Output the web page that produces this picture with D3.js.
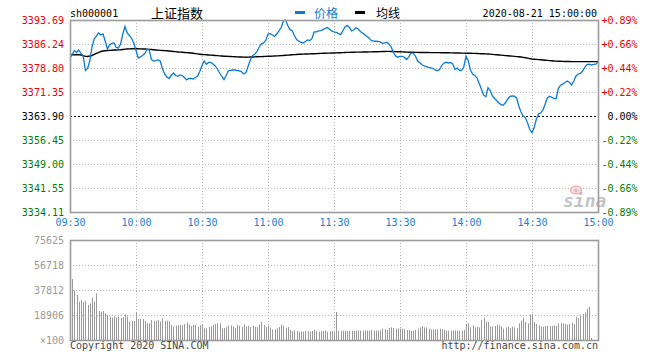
<!DOCTYPE html>
<html><head><meta charset="utf-8">
<script src="https://cdn.jsdelivr.net/npm/d3@7"></script>
<style>
html,body{margin:0;padding:0;background:#fff;}
svg{display:block;}
text{font-family:"DejaVu Sans Mono",monospace;}
.cjk{font-family:"Noto Sans CJK SC",sans-serif;}
</style></head>
<body>
<svg id="c" width="660" height="360"></svg>
<script>
const symbol = "sh000001";
const title = "上证指数";
const dateLabel = "2020-08-21 15:00:00";
const prevClose = 3363.90;
const priceTicks = [3393.69, 3386.24, 3378.80, 3371.35, 3363.90, 3356.45, 3349.00, 3341.55, 3334.11];
const pctTicks = ["+0.89%","+0.66%","+0.44%","+0.22%","0.00%","-0.22%","-0.44%","-0.66%","-0.89%"];
const timeTickIdx = [0, 30, 60, 90, 120, 150, 180, 210, 240];
const timeTickLabels = ["09:30","10:00","10:30","11:00","11:30","13:30","14:00","14:30","15:00"];
const volTicks = [75625, 56718, 37812, 18906, 0];
const volTickLabels = ["75625","56718","37812","18906","×100"];

const price = [
3381.90,3382.93,3384.23,3383.61,3384.39,3383.30,3382.53,3378.02,3378.65,3380.97,
3385.32,3387.80,3388.73,3389.67,3389.04,3389.35,3387.18,3384.70,3385.94,3386.41,
3386.56,3385.16,3385.01,3386.25,3389.35,3391.68,3389.67,3388.89,3387.96,3386.56,
3384.23,3381.90,3382.22,3382.68,3383.30,3384.54,3384.39,3381.44,3380.97,3381.07,
3381.28,3380.97,3378.65,3376.94,3376.01,3375.54,3376.47,3377.25,3376.47,3376.22,
3376.63,3376.47,3375.85,3375.08,3375.54,3375.54,3375.39,3375.85,3376.32,3377.71,
3379.58,3380.97,3379.95,3380.51,3380.51,3380.04,3379.42,3378.49,3377.25,3376.16,
3375.23,3376.47,3378.02,3378.09,3378.18,3378.24,3378.02,3377.87,3377.62,3376.94,
3377.40,3379.42,3381.28,3382.68,3383.05,3383.92,3385.32,3386.31,3386.56,3387.34,
3389.35,3389.45,3389.04,3388.58,3389.35,3390.29,3391.37,3393.39,3393.69,3391.99,
3390.69,3390.38,3388.89,3387.65,3387.12,3386.72,3386.56,3387.03,3387.49,3387.31,
3387.96,3389.98,3389.98,3390.29,3390.38,3390.69,3391.12,3391.34,3390.84,3390.29,
3389.98,3389.88,3389.45,3389.17,3390.29,3391.53,3392.06,3391.37,3390.29,3390.66,
3391.28,3390.91,3390.13,3389.67,3389.14,3388.58,3388.05,3387.27,3387.12,3387.09,
3387.03,3386.87,3386.47,3386.56,3386.72,3386.25,3385.32,3383.61,3382.53,3382.15,
3382.43,3382.43,3382.15,3381.44,3382.22,3383.46,3383.39,3382.53,3380.97,3380.41,
3379.79,3379.42,3379.24,3379.02,3378.86,3378.65,3378.18,3377.96,3378.33,3379.64,
3380.35,3380.57,3380.35,3380.51,3380.04,3378.33,3378.80,3378.09,3378.02,3379.11,
3382.43,3381.13,3378.18,3376.94,3376.50,3375.70,3373.99,3372.28,3370.36,3369.89,
3372.69,3371.82,3370.11,3369.33,3368.62,3367.94,3367.38,3367.31,3368.09,3369.18,
3370.02,3370.11,3370.05,3369.49,3367.00,3365.14,3363.90,3363.34,3361.73,3359.71,
3358.72,3360.33,3362.97,3364.52,3364.89,3365.76,3367.63,3369.49,3370.02,3369.70,
3369.30,3369.33,3372.50,3373.46,3373.77,3374.30,3374.76,3374.39,3373.52,3374.76,
3376.32,3376.94,3377.12,3377.87,3378.96,3379.86,3379.98,3379.73,3379.89,3379.98,
3380.66];

const avgPrice = [
3382.93,3382.93,3382.93,3382.93,3382.93,3382.85,3382.60,3382.40,3382.37,3382.50,
3382.68,3383.00,3383.30,3383.60,3383.92,3384.05,3384.15,3384.23,3384.28,3384.32,
3384.36,3384.40,3384.43,3384.45,3384.55,3384.65,3384.70,3384.73,3384.76,3384.78,
3384.79,3384.77,3384.74,3384.70,3384.67,3384.64,3384.58,3384.52,3384.45,3384.39,
3384.33,3384.28,3384.23,3384.18,3384.13,3384.08,3384.00,3383.93,3383.86,3383.78,
3383.71,3383.66,3383.61,3383.56,3383.51,3383.46,3383.37,3383.27,3383.18,3383.08,
3382.99,3382.94,3382.89,3382.84,3382.79,3382.74,3382.68,3382.63,3382.57,3382.52,
3382.46,3382.42,3382.39,3382.35,3382.32,3382.28,3382.25,3382.22,3382.20,3382.17,
3382.15,3382.18,3382.20,3382.23,3382.25,3382.28,3382.31,3382.34,3382.37,3382.40,
3382.43,3382.46,3382.49,3382.53,3382.56,3382.59,3382.64,3382.69,3382.74,3382.79,
3382.84,3382.89,3382.94,3382.99,3383.04,3383.08,3383.11,3383.13,3383.16,3383.18,
3383.21,3383.24,3383.27,3383.30,3383.33,3383.36,3383.38,3383.40,3383.42,3383.44,
3383.46,3383.49,3383.52,3383.55,3383.58,3383.61,3383.63,3383.65,3383.67,3383.69,
3383.71,3383.72,3383.73,3383.74,3383.76,3383.77,3383.79,3383.81,3383.82,3383.84,
3383.86,3383.88,3383.90,3383.92,3383.94,3383.95,3383.93,3383.90,3383.88,3383.85,
3383.83,3383.80,3383.77,3383.73,3383.70,3383.67,3383.66,3383.65,3383.63,3383.62,
3383.61,3383.60,3383.60,3383.59,3383.58,3383.58,3383.57,3383.56,3383.56,3383.55,
3383.55,3383.53,3383.51,3383.50,3383.48,3383.46,3383.45,3383.43,3383.42,3383.40,
3383.39,3383.37,3383.35,3383.33,3383.32,3383.30,3383.27,3383.24,3383.21,3383.18,
3383.15,3383.09,3383.03,3382.96,3382.90,3382.84,3382.78,3382.72,3382.65,3382.59,
3382.53,3382.47,3382.41,3382.34,3382.28,3382.22,3382.09,3381.97,3381.84,3381.72,
3381.59,3381.53,3381.47,3381.40,3381.34,3381.28,3381.22,3381.16,3381.09,3381.03,
3380.97,3380.94,3380.91,3380.88,3380.85,3380.82,3380.81,3380.80,3380.78,3380.77,
3380.76,3380.76,3380.76,3380.76,3380.76,3380.76,3380.76,3380.76,3380.76,3380.76,
3380.76];

const volume = [
75625,46100,37500,34000,29000,30200,28600,29600,26600,27800,
32200,29000,35300,21900,21400,21900,20200,18900,17600,16900,
18000,17000,17700,16600,17400,19400,17700,13900,14400,14400,
20900,15900,15900,15900,14400,12600,12600,15100,14400,14400,
15100,13900,16400,14400,14600,13900,11300,10000,10800,11300,
11300,11300,12100,13300,11800,10600,11300,11300,10000,11300,
11800,8800,8800,9800,10300,11300,12100,12600,12600,8800,
9000,9800,11000,11000,10300,9000,11300,10800,9800,11800,
10300,10800,9800,10800,10000,9800,11800,13800,11300,9800,
11000,9300,8000,8000,8800,9800,11600,11000,9300,9800,
7800,6800,7300,6800,6300,6300,6300,6800,6800,6300,
6800,7800,6800,6300,6600,6800,7300,6300,6600,6800,
6300,21200,7060,6800,7060,7060,6800,7060,7060,6800,
7060,7300,7060,7060,7060,7060,7060,7560,7060,7060,
7060,7300,8570,8070,7560,9080,9580,9080,8570,8820,
8570,8570,8070,7560,7560,7060,7060,7560,8570,9580,
10340,9580,9580,8570,8070,8070,8070,8070,8570,8320,
7560,7060,7060,7060,7060,7300,7060,7060,7060,7560,
12100,12600,9580,11100,9580,10080,9580,15120,16640,14120,
13620,10340,10340,10590,11600,11100,10340,8570,9580,10080,
9080,10080,9580,9080,12600,14620,16640,13610,12600,19160,
19660,13610,12100,11100,10080,10080,10590,10590,10590,10590,
11100,10590,12600,12600,12600,12100,11600,12100,13100,12100,
17640,16640,19160,19660,20920,23700,25200,1500,0,0,
0];

const svg = d3.select("#c");
const L = 70, R = 598, PT = 20, PB = 212, VT = 240, VB = 340;
const x = d3.scaleLinear().domain([0, 240]).range([L, R]);
const y = d3.scaleLinear().domain([priceTicks[8], priceTicks[0]]).range([PB, PT]);
const yv = d3.scaleLinear().domain([0, volTicks[0]]).range([VB, VT]);

const gridColor = "#b4b4b4";
// price grid
const pg = svg.append("g");
pg.selectAll("line.h").data(priceTicks.filter((d,i)=>i>0 && i<8 && i!==4)).enter().append("line")
  .attr("x1", L).attr("x2", R).attr("y1", d=>Math.round(y(d))+0.5).attr("y2", d=>Math.round(y(d))+0.5)
  .attr("stroke", gridColor).attr("stroke-dasharray","1,2");
pg.selectAll("line.v").data(timeTickIdx.slice(1,8)).enter().append("line")
  .attr("y1", PT).attr("y2", PB).attr("x1", d=>Math.round(x(d))+0.5).attr("x2", d=>Math.round(x(d))+0.5)
  .attr("stroke", gridColor).attr("stroke-dasharray","1,2");
pg.append("line").attr("x1",L).attr("x2",R).attr("y1",Math.round(y(prevClose))+0.5).attr("y2",Math.round(y(prevClose))+0.5)
  .attr("stroke","#000").attr("stroke-dasharray","2,2");

// volume grid
const vg = svg.append("g");
vg.selectAll("line.h").data(volTicks.slice(1,4)).enter().append("line")
  .attr("x1", L).attr("x2", R).attr("y1", d=>Math.round(yv(d))+0.5).attr("y2", d=>Math.round(yv(d))+0.5)
  .attr("stroke", gridColor).attr("stroke-dasharray","1,2");
vg.selectAll("line.v").data(timeTickIdx.slice(1,8)).enter().append("line")
  .attr("y1", VT).attr("y2", VB).attr("x1", d=>Math.round(x(d))+0.5).attr("x2", d=>Math.round(x(d))+0.5)
  .attr("stroke", gridColor).attr("stroke-dasharray","1,2");

// sina watermark
const wm = svg.append("g");
wm.append("text").attr("x", 563).attr("y", 207).attr("font-family","DejaVu Sans, sans-serif")
  .attr("font-style","italic").attr("font-weight","bold").attr("font-size", 18).attr("fill","#c4c4c4").text("sina");
wm.append("ellipse").attr("cx", 576).attr("cy", 190).attr("rx", 5.5).attr("ry", 4)
  .attr("fill","#f6d6d6").attr("stroke","#e8a8a8").attr("stroke-width",1.2);
wm.append("circle").attr("cx", 576).attr("cy", 190.5).attr("r", 1.8).attr("fill","#c4c4c4");

// volume bars
svg.append("g").selectAll("rect").data(volume).enter().append("rect")
  .attr("x", (d,i)=>Math.round(x(i))).attr("width", 1)
  .attr("y", d=>yv(d)).attr("height", d=>VB - yv(d))
  .attr("fill", "#999");

// avg line
svg.append("path").datum(avgPrice)
  .attr("d", d3.line().x((d,i)=>x(i)).y(d=>y(d)))
  .attr("fill","none").attr("stroke","#000").attr("stroke-width",1.4);
// price line
svg.append("path").datum(price)
  .attr("d", d3.line().x((d,i)=>x(i)).y(d=>y(d)))
  .attr("fill","none").attr("stroke","#0b7bd3").attr("stroke-width",1.3);

// frames
svg.append("rect").attr("x",L+0.5).attr("y",PT+0.5).attr("width",R-L).attr("height",PB-PT)
  .attr("fill","none").attr("stroke","#9c9c9c").attr("stroke-width",1.6);
svg.append("rect").attr("x",L+0.5).attr("y",VT+0.5).attr("width",R-L).attr("height",VB-VT)
  .attr("fill","none").attr("stroke","#9c9c9c").attr("stroke-width",1.6);

// left price axis
const colorFor = (d) => d > prevClose + 0.001 ? "#f00000" : (d < prevClose - 0.001 ? "#008000" : "#000");
const ax = svg.append("g").attr("transform", `translate(${L-6},0)`)
  .call(d3.axisLeft(y).tickValues(priceTicks).tickFormat(d3.format(".2f")).tickSize(0).tickPadding(0));
ax.select(".domain").remove();
ax.selectAll("text").attr("font-family","DejaVu Sans Mono, monospace").attr("font-size",10)
  .attr("fill", d=>colorFor(d)).attr("dy","0.35em");

// right pct axis
const ar = svg.append("g").attr("transform", `translate(637.5,0)`)
  .call(d3.axisLeft(y).tickValues(priceTicks).tickFormat((d,i)=>pctTicks[i]).tickSize(0).tickPadding(0));
ar.select(".domain").remove();
ar.selectAll("text").attr("font-family","DejaVu Sans Mono, monospace").attr("font-size",10)
  .attr("fill", d=>colorFor(d)).attr("dy","0.35em");

// time axis
const at = svg.append("g").attr("transform", `translate(0,${PB+7})`)
  .call(d3.axisBottom(x).tickValues(timeTickIdx).tickFormat((d,i)=>timeTickLabels[i]).tickSize(0).tickPadding(0));
at.select(".domain").remove();
at.selectAll("text").attr("font-family","DejaVu Sans Mono, monospace").attr("font-size",10)
  .attr("fill","#1a80d2");

// volume axis
const avx = svg.append("g").attr("transform", `translate(${L-6},0)`)
  .call(d3.axisLeft(yv).tickValues(volTicks).tickFormat((d,i)=>volTickLabels[i]).tickSize(0).tickPadding(0));
avx.select(".domain").remove();
avx.selectAll("text").attr("font-family","DejaVu Sans Mono, monospace").attr("font-size",10)
  .attr("fill","#999").attr("dy","0.35em");

// header
svg.append("text").attr("x", L).attr("y", 17).attr("font-size", 10).attr("fill","#000").text(symbol);
svg.append("text").attr("class","cjk").attr("x", 151).attr("y", 18).attr("font-size", 13).attr("fill","#000").text(title);
svg.append("rect").attr("x",295).attr("y",11).attr("width",10).attr("height",3).attr("fill","#0b7bd3");
svg.append("text").attr("class","cjk").attr("x", 314).attr("y", 17.5).attr("font-size", 12).attr("fill","#0b7bd3").text("价格");
svg.append("rect").attr("x",355).attr("y",11).attr("width",10).attr("height",3).attr("fill","#000");
svg.append("text").attr("class","cjk").attr("x", 376).attr("y", 17.5).attr("font-size", 12).attr("fill","#000").text("均线");
svg.append("text").attr("x", 597).attr("y", 17).attr("text-anchor","end").attr("font-size", 10).attr("fill","#000").text(dateLabel);

// footer
svg.append("text").attr("x", L).attr("y", 349).attr("font-size", 10).attr("fill","#444").text("Copyright 2020 SINA.COM");
svg.append("text").attr("x", R).attr("y", 349).attr("text-anchor","end").attr("font-size", 10).attr("fill","#444").text("http://finance.sina.com.cn");
</script>
</body></html>
